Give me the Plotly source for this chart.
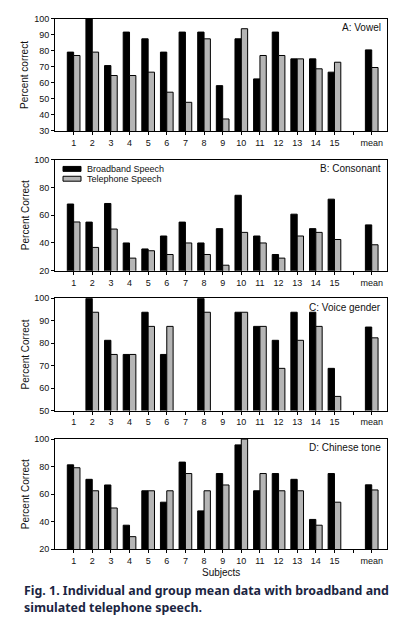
import plotly.graph_objects as go

subjects = [str(i) for i in range(1, 16)] + ["mean"]

vowel_broad = [79.2, 100, 70.8, 91.7, 87.5, 79.2, 91.7, 91.7, 58.3, 87.5, 62.5, 91.7, 75.0, 75.0, 66.7, 80.6]
vowel_tel = [77.1, 79.2, 64.6, 64.6, 66.7, 54.2, 47.9, 87.5, 37.5, 93.8, 77.1, 77.1, 75.0, 68.8, 72.9, 69.6]

cons_broad = [68.0, 55.0, 68.4, 40.0, 35.7, 45.0, 55.0, 40.0, 50.3, 74.3, 45.0, 31.7, 60.7, 50.3, 71.5, 53.0]
cons_tel = [55.1, 36.8, 50.0, 29.1, 34.4, 31.7, 40.0, 31.7, 24.0, 47.6, 40.0, 29.1, 45.0, 47.6, 42.5, 38.7]

gender_broad = [None, 100, 81.3, 75.0, 93.8, 75.0, None, 100, None, 93.8, 87.5, 81.3, 93.8, 93.8, 68.8, 87.2]
gender_tel = [None, 93.8, 75.0, 75.0, 87.5, 87.5, None, 93.8, None, 93.8, 87.5, 68.8, 81.3, 87.5, 56.3, 82.4]

tone_broad = [81.3, 70.8, 66.7, 37.5, 62.5, 54.2, 83.3, 47.9, 75.0, 95.8, 62.5, 75.0, 70.8, 41.7, 75.0, 66.8]
tone_tel = [79.2, 62.5, 50.0, 29.2, 62.5, 62.5, 75.0, 62.5, 66.7, 100, 75.0, 62.5, 62.5, 37.5, 54.2, 63.1]

series_names = ["Broadband Speech", "Telephone Speech"]
series_colors = ["#000000", "#b5b5b5"]

panels = [
    ("A: Vowel", "Percent correct", vowel_broad, vowel_tel, [30, 100], 10),
    ("B: Consonant", "Percent Correct", cons_broad, cons_tel, [20, 100], 20),
    ("C: Voice gender", "Percent Correct", gender_broad, gender_tel, [50, 100], 10),
    ("D: Chinese tone", "Percent Correct", tone_broad, tone_tel, [20, 100], 20),
]

# slot 16 is an empty gap before the mean
x_pos = list(range(1, 16)) + [17]
tickvals = list(range(1, 18))
ticktext = subjects[:15] + [""] + ["mean"]

W, H = 411, 638
x0px, x1px = 55, 387
ybands = [(14, 128), (157, 270), (298, 412), (441, 553)]

fig = go.Figure()
layout = dict(
    width=W, height=H,
    margin=dict(l=0, r=0, t=0, b=0),
    paper_bgcolor="white", plot_bgcolor="white",
    font=dict(family="Liberation Sans, Arial, sans-serif", color="#111"),
    barmode="overlay",
    showlegend=False,
)
annotations = []
shapes = []
barw = 0.34
for i, (label, ytitle, broad, tel, yr, dt) in enumerate(panels):
    n = "" if i == 0 else str(i + 1)
    top, bot = ybands[i]
    fig.add_trace(go.Bar(
        x=x_pos, y=broad, name=series_names[0], xaxis="x" + n, yaxis="y" + n,
        width=barw, offset=-barw,
        marker=dict(color=series_colors[0], line=dict(color="black", width=1)),
        hoverinfo="skip"))
    fig.add_trace(go.Bar(
        x=x_pos, y=tel, name=series_names[1], xaxis="x" + n, yaxis="y" + n,
        width=barw, offset=0,
        marker=dict(color=series_colors[1], line=dict(color="black", width=1)),
        hoverinfo="skip"))
    layout["xaxis" + n] = dict(
        domain=[x0px / W, x1px / W], anchor="y" + n, range=[0, 17.82],
        tickmode="array", tickvals=tickvals, ticktext=ticktext,
        ticks="outside", ticklen=3, tickcolor="black", tickwidth=1,
        showline=True, linecolor="black", linewidth=1, mirror=True,
        showgrid=False, zeroline=False, tickfont=dict(size=9, color="#111"),
        fixedrange=True)
    layout["yaxis" + n] = dict(
        domain=[1 - bot / H, 1 - top / H], anchor="x" + n, range=yr, dtick=dt,
        ticks="outside", ticklen=3, tickcolor="black", tickwidth=1,
        showline=True, linecolor="black", linewidth=1, mirror=True,
        showgrid=False, zeroline=False, tickfont=dict(size=9, color="#111"),
        fixedrange=True)
    annotations.append(dict(
        text=label, xref="paper", yref="paper", x=383 / W, y=1 - (top + 9) / H,
        xanchor="right", yanchor="middle", showarrow=False,
        font=dict(size=10, color="#111")))
    annotations.append(dict(
        text=ytitle, xref="paper", yref="paper", x=25 / W, y=1 - (top + bot) / 2 / H,
        xanchor="center", yanchor="middle", textangle=-90, showarrow=False,
        font=dict(size=10, color="#111")))

# legend inside panel B (swatches + labels)
for k, (nm, col) in enumerate(zip(series_names, series_colors)):
    yc = 166.5 + 10 * k
    shapes.append(dict(type="rect", xref="paper", yref="paper",
                       x0=63 / W, x1=81 / W, y0=1 - (yc + 2.5) / H, y1=1 - (yc - 2.5) / H,
                       fillcolor=col, line=dict(color="black", width=1)))
    annotations.append(dict(text=nm, xref="paper", yref="paper", x=85 / W, y=1 - yc / H,
                            xanchor="left", yanchor="middle", showarrow=False,
                            font=dict(size=9, color="#111")))

annotations.append(dict(
    text="Subjects", xref="paper", yref="paper", x=(x0px + x1px) / 2 / W, y=1 - 577 / H,
    xanchor="center", yanchor="middle", showarrow=False, font=dict(size=10, color="#111")))
cap_font = dict(family="Noto Sans, Liberation Sans, sans-serif", size=12.4, color="#1b2542")
annotations.append(dict(
    text="<b>Fig. 1. Individual and group mean data with broadband and</b>",
    xref="paper", yref="paper", x=22 / W, y=1 - 595 / H, xanchor="left", yanchor="middle",
    showarrow=False, font=cap_font))
annotations.append(dict(
    text="<b>simulated telephone speech.</b>",
    xref="paper", yref="paper", x=22 / W, y=1 - 612 / H, xanchor="left", yanchor="middle",
    showarrow=False, font=cap_font))
layout["annotations"] = annotations
layout["shapes"] = shapes
fig.update_layout(**layout)
fig.write_html("out.html", config={"displayModeBar": False},
               post_script="document.body.style.margin='0';")
